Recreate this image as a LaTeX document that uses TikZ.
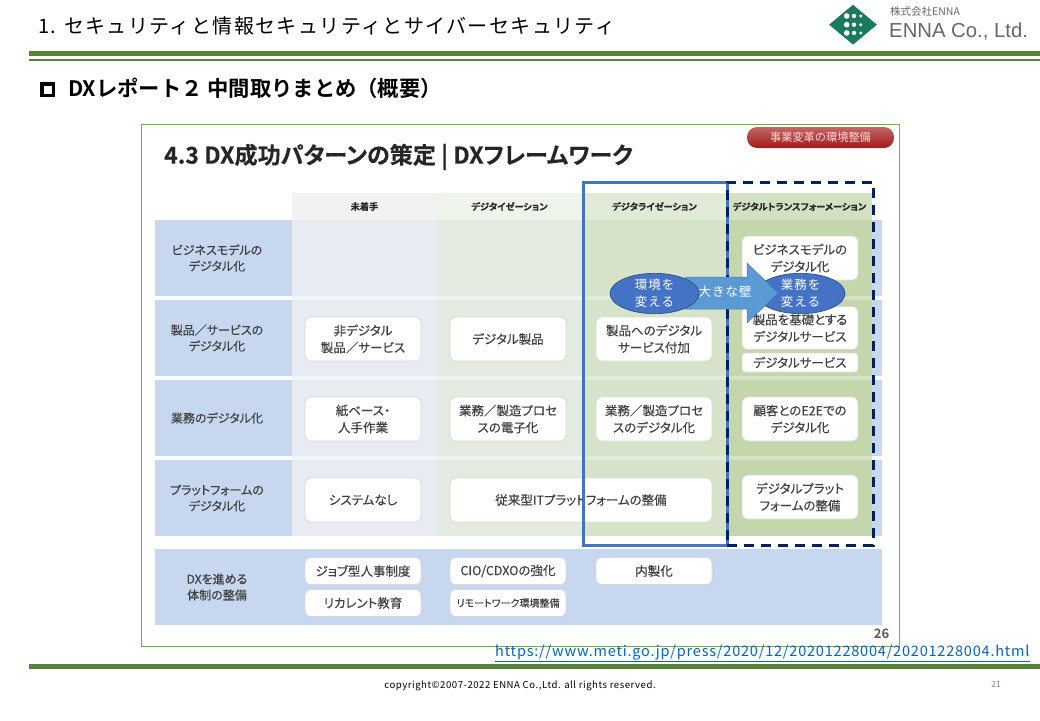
\documentclass[tikz,border=0pt]{standalone}
\usepackage{fontspec}
\setmainfont{Noto Sans CJK JP}[BoldFont={Noto Sans CJK JP Bold}]
\newfontfamily\headfont{Noto Sans CJK JP}[LetterSpace=7]
\newfontfamily\smallspaced{Noto Sans CJK JP}[LetterSpace=8]
\newfontfamily\urlfont{Noto Sans CJK JP}[LetterSpace=5.5]
\newfontfamily\slidefont{Noto Sans CJK JP}[RawFeature=+palt, FakeBold=0.2, BoldFont={Noto Sans CJK JP Bold}, BoldFeatures={RawFeature=+palt}]
\newfontfamily\latinfont{Liberation Sans}
\usetikzlibrary{positioning,shapes.geometric}
\definecolor{barGreen}{HTML}{548235}
\definecolor{frameGreen}{HTML}{70AD47}
\definecolor{bandBlue}{HTML}{C6D7EF}
\definecolor{colGrey}{HTML}{E8ECF2}
\definecolor{colPale}{HTML}{E3EBE0}
\definecolor{colMid}{HTML}{D6E3C8}
\definecolor{colDeep}{HTML}{C4D6AC}
\definecolor{inkGrey}{HTML}{404040}
\definecolor{shapeBlue}{HTML}{4472C4}
\definecolor{arrowBlue}{HTML}{5B9BD5}
\definecolor{navyLine}{HTML}{002060}
\definecolor{logoGreen}{HTML}{1A7A5E}
\definecolor{linkBlue}{HTML}{0563C1}

\begin{document}
\begin{tikzpicture}[x=1pt, y=-1pt,
	band/.style={fill=bandBlue, inner sep=0pt, minimum width=727pt, minimum height=76pt},
	under/.style={inner sep=0pt, minimum width=145.5pt, minimum height=316pt},
	shade/.style={inner sep=0pt, minimum width=145.5pt, minimum height=76pt},
	colhead/.style={inner sep=0pt, minimum width=145.5pt, minimum height=27pt, text=black!85, font=\fontsize{9.2}{10}\selectfont\slidefont\bfseries},
	rowlabel/.style={align=center, text=inkGrey, font=\fontsize{12}{16}\selectfont\slidefont},
	card/.style={draw=black!15, line width=0.8pt, fill=white, rounded corners=6pt, inner sep=0pt, minimum width=116pt, minimum height=44pt, align=center, text=inkGrey, font=\fontsize{12.5}{17}\selectfont\slidefont},
	smallcard/.style={card, minimum height=27pt},
	bubble/.style={ellipse, draw=shapeBlue!70!black, line width=0.7pt, fill=shapeBlue, inner sep=0pt, minimum width=89pt, minimum height=39pt, align=center, text=white, font=\fontsize{12.5}{17}\selectfont\smallspaced}]
	\useasboundingbox (0,0) rectangle (1040,720);

	% header
	\node[anchor=west, inner sep=0pt, font=\fontsize{20}{24}\selectfont\headfont] (pagetitle) at (38,26) {1. セキュリティと情報セキュリティとサイバーセキュリティ};
	\node[diamond, fill=logoGreen, inner sep=0pt, minimum width=48pt, minimum height=40pt] (logomark) at (853,24.7) {};
	\foreach \py in {16,24.7,33} {
		\fill[white] (846.7,\py) circle (2.8pt);
		\fill[white] (854,\py) circle (2.2pt);
		\fill[white] (860.7,\py) circle (1.6pt);
	}
	\node[anchor=west, inner sep=0pt, text=black!60, font=\fontsize{10.5}{12}\selectfont] (logosub) at (890,12) {株式会社ENNA};
	\node[anchor=west, inner sep=0pt, text=black!60, font=\fontsize{20.3}{22}\selectfont\latinfont] (logoname) at (889,31) {ENNA Co., Ltd.};
	\node[fill=barGreen, inner sep=0pt, anchor=north west, minimum width=1011pt, minimum height=5pt] (topbar) at (29,51) {};
	\node[fill=barGreen, inner sep=0pt, minimum width=1011pt, minimum height=2pt] (topthin) [below=2pt of topbar] {};

	% section line
	\node[draw=black, line width=3.5pt, outer sep=0pt, inner sep=0pt, minimum size=11.5pt] (bullet) at (47.5,89.5) {};
	\node[anchor=west, inner sep=0pt, font=\fontsize{21.3}{24}\selectfont\bfseries] (sectiontitle) at (68,88) {DXレポート２ 中間取りまとめ（概要）};

	% slide frame
	\node[draw=frameGreen, line width=0.9pt, outer sep=0pt, anchor=north west, inner sep=0pt, minimum width=758pt, minimum height=521.5pt] (slide) at (141,124.5) {};
	\node[anchor=west, inner sep=0pt, text=black!85, font=\fontsize{23.1}{26}\selectfont\slidefont\bfseries] (slidetitle) at (164,157) {4.3 DX成功パターンの策定 | DXフレームワーク};
	\node[rounded corners=10pt, top color=red!60!black!60!white, bottom color=red!60!black!90!white, inner sep=0pt, minimum width=147pt, minimum height=21pt, text=white!85!red, font=\fontsize{11.2}{12}\selectfont] (redpill) at (820.5,137.5) {事業変革の環境整備};

	% rows
	\node[band] (row1) at (518.5,258) {};
	\node[band] (row2) at (518.5,338) {};
	\node[band] (row3) at (518.5,418) {};
	\node[band] (row4) at (518.5,498) {};
	\node[band] (row5) at (518.5,587) {};

	% column heads
	\node[colhead, fill=black!5] (head1) at (364.5,206.5) {未着手};
	\node[colhead, fill=colPale!60!white] (head2) [right of=head1, node distance=145pt] {デジタイゼーション};
	\node[colhead, fill=colMid!75!white] (head3) [right of=head2, node distance=145pt] {デジタライゼーション};
	\node[colhead, fill=colDeep!75!white] (head4) [right of=head3, node distance=145pt] {デジタルトランスフォーメーション};

	% column shading
	\node[under, fill=colGrey!55!white] (under1) at (364.5,378) {};
	\node[under, fill=colPale!55!white] (under2) [right of=under1, node distance=145pt] {};
	\node[under, fill=colMid!70!white] (under3) [right of=under2, node distance=145pt] {};
	\node[under, fill=colDeep!70!white] (under4) [right of=under3, node distance=145pt] {};
	\node[shade, fill=colGrey] (g1) at (364.5,258) {};
	\node[shade, fill=colPale] (p1) [right of=g1, node distance=145pt] {};
	\node[shade, fill=colMid] (m1) [right of=p1, node distance=145pt] {};
	\node[shade, fill=colDeep] (d1) [right of=m1, node distance=145pt] {};
	\node[shade, fill=colGrey] (g2) at (364.5,338) {};
	\node[shade, fill=colPale] (p2) [right of=g2, node distance=145pt] {};
	\node[shade, fill=colMid] (m2) [right of=p2, node distance=145pt] {};
	\node[shade, fill=colDeep] (d2) [right of=m2, node distance=145pt] {};
	\node[shade, fill=colGrey] (g3) at (364.5,418) {};
	\node[shade, fill=colPale] (p3) [right of=g3, node distance=145pt] {};
	\node[shade, fill=colMid] (m3) [right of=p3, node distance=145pt] {};
	\node[shade, fill=colDeep] (d3) [right of=m3, node distance=145pt] {};
	\node[shade, fill=colGrey] (g4) at (364.5,498) {};
	\node[shade, fill=colPale] (p4) [right of=g4, node distance=145pt] {};
	\node[shade, fill=colMid] (m4) [right of=p4, node distance=145pt] {};
	\node[shade, fill=colDeep] (d4) [right of=m4, node distance=145pt] {};

	% row labels
	\node[rowlabel] (label1) at (217,258) {ビジネスモデルの\\デジタル化};
	\node[rowlabel] (label2) at (217,338) {製品／サービスの\\デジタル化};
	\node[rowlabel] (label3) at (217,418) {業務のデジタル化};
	\node[rowlabel] (label4) at (217,498) {プラットフォームの\\デジタル化};
	\node[rowlabel] (label5) at (217,587) {DXを進める\\体制の整備};

	% cards
	\node[card] (bizmodel) at (800,258) {ビジネスモデルの\\デジタル化};
	\node[card] (nondigital) at (363,339) {非デジタル\\製品／サービス};
	\node[card] (digiproduct) [right of=nondigital, node distance=145pt] {デジタル製品};
	\node[card] (addservice) [right of=digiproduct, node distance=146pt] {製品へのデジタル\\サービス付加};
	\node[card, minimum height=43pt] (baseservice) at (800,328) {製品を基礎とする\\デジタルサービス};
	\node[card, rounded corners=3pt, minimum height=19pt] (digiservice) at (800,362.5) {デジタルサービス};
	\node[card] (paper) at (363,419) {紙ベース・\\人手作業};
	\node[card] (electronic) [right of=paper, node distance=145pt] {業務／製造プロセ\\スの電子化};
	\node[card] (digitized) [right of=electronic, node distance=146pt] {業務／製造プロセ\\スのデジタル化};
	\node[card] (e2e) [right of=digitized, node distance=146pt] {顧客とのE2Eでの\\デジタル化};
	\node[card] (nosystem) at (363,500) {システムなし};
	\node[card, minimum width=262pt] (legacy) at (581,500) {従来型ITプラットフォームの整備};
	\node[card] (platform) at (800,497) {デジタルプラット\\フォームの整備};
	\node[smallcard] (jobtype) at (363,571) {ジョブ型人事制度};
	\node[smallcard] (recurrent) at (363,603) {リカレント教育};
	\node[smallcard] (cdxo) at (508,571) {CIO/CDXOの強化};
	\node[smallcard, font=\fontsize{10}{12}\selectfont\slidefont] (remote) at (508,603) {リモートワーク環境整備};
	\node[smallcard] (inhouse) at (654,571) {内製化};
	\node[text=black!65, inner sep=0pt, font=\fontsize{13}{15}\selectfont\bfseries] (slidenum) at (881.5,634) {26};

	% highlight frames
	\node[draw=shapeBlue, line width=3pt, outer sep=0pt, anchor=north west, inner sep=0pt, minimum width=144pt, minimum height=363pt] (framedigi) at (583,182) {};
	\node[draw=navyLine, line width=3pt, outer sep=0pt, dash pattern=on 10pt off 7pt, anchor=north west, inner sep=0pt, minimum width=146pt, minimum height=363pt] (framedx) at (727,182) {};

	% wall arrow
	\node[bubble] (changework) at (800.5,293.5) {業務を\\変える};
	\draw[draw=arrowBlue!80!black, line width=0.5pt, fill=arrowBlue] (685,277) -- (747,277) -- (747,263) -- (778,293) -- (747,323) -- (747,309) -- (685,309) -- cycle;
	\node[text=white, inner sep=0pt, font=\fontsize{12.5}{15}\selectfont\smallspaced] (walltext) at (725,292) {大きな壁};
	\node[bubble] (changeenv) at (654.5,293.5) {環境を\\変える};

	% footer
	\node[anchor=west, inner sep=0pt, text=linkBlue, font=\fontsize{14.5}{17}\selectfont\urlfont] (urlref) at (495,653.5) {\underline{https://www.meti.go.jp/press/2020/12/20201228004/20201228004.html}};
	\node[fill=barGreen, inner sep=0pt, anchor=north west, minimum width=1011pt, minimum height=5pt] (bottombar) at (29,664) {};
	\node[inner sep=0pt, font=\fontsize{9.6}{11}\selectfont\urlfont] (copyrightline) at (520,686) {copyright©2007-2022 ENNA Co.,Ltd. all rights reserved.};
	\node[inner sep=0pt, text=black!50, font=\fontsize{8.5}{10}\selectfont] (pageno) at (996,684) {21};
\end{tikzpicture}
\end{document}
